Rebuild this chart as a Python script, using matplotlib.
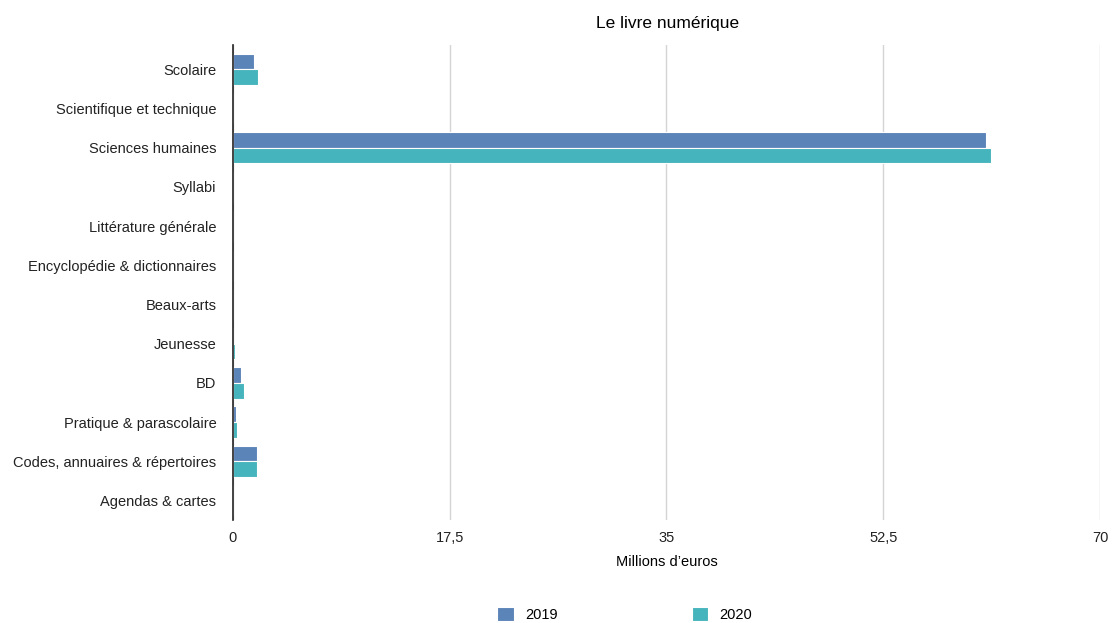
import numpy as np
import matplotlib.pyplot as plt
from matplotlib.ticker import FuncFormatter

plt.rcParams['font.family'] = ['Liberation Sans', 'DejaVu Sans']

categories = [
    "Scolaire",
    "Scientifique et technique",
    "Sciences humaines",
    "Syllabi",
    "Littérature générale",
    "Encyclopédie & dictionnaires",
    "Beaux-arts",
    "Jeunesse",
    "BD",
    "Pratique & parascolaire",
    "Codes, annuaires & répertoires",
    "Agendas & cartes",
]
values_2019 = [1.7, 0, 60.8, 0, 0, 0, 0, 0, 0.68, 0.22, 1.95, 0]
values_2020 = [2.05, 0, 61.2, 0, 0, 0, 0, 0.14, 0.87, 0.33, 1.97, 0]
xticks = [0, 17.5, 35, 52.5, 70]

c2019 = "#5b84b8"
c2020 = "#45b4bc"

fig = plt.figure(figsize=(11.13, 6.23), dpi=100)
ax = fig.add_axes([0.2093, 0.1653, 0.7790, 0.7625])

y = np.arange(len(categories))
h = 0.4
ax.barh(y - h / 2, values_2019, height=h, color=c2019, edgecolor="white", linewidth=0.8, label="2019", zorder=3)
ax.barh(y + h / 2, values_2020, height=h, color=c2020, edgecolor="white", linewidth=0.8, label="2020", zorder=3)

ax.set_ylim(11.5, -0.62)
ax.set_xlim(0, 70)
ax.set_yticks(y)
ax.set_yticklabels(categories, fontsize=10.5)
ax.set_xticks(xticks)
ax.xaxis.set_major_formatter(FuncFormatter(lambda v, _: f"{v:g}".replace(".", ",")))
ax.tick_params(axis="both", length=0, labelsize=10.5, colors="#222222")
ax.tick_params(axis="y", pad=12)
ax.tick_params(axis="x", pad=8)

ax.grid(axis="x", color="#d4d4d4", linewidth=1, zorder=0)
for s in ["top", "right", "bottom"]:
    ax.spines[s].set_visible(False)
ax.spines["left"].set_color("#222222")
ax.spines["left"].set_linewidth(1.2)
ax.spines["left"].set_zorder(4)

ax.set_xlabel("Millions d\u2019euros", fontsize=10.5, labelpad=7)
fig.text(0.6, 0.962, "Le livre numérique", ha="center", va="center", fontsize=12.5)

fig.legend(loc="center", bbox_to_anchor=(0.5615, 0.013), ncol=2, frameon=False,
           fontsize=10.5, handlelength=1.1, handleheight=1.1, columnspacing=9.2,
           handletextpad=0.8)

fig.savefig("out.png", dpi=100)
